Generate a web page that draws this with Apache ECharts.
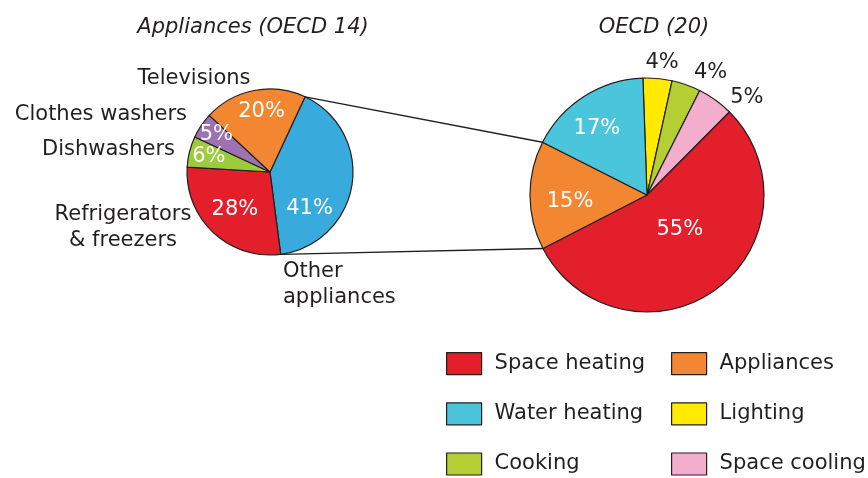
<!DOCTYPE html>
<html>
<head>
<meta charset="utf-8">
<title>Residential energy use</title>
<script src="https://cdn.jsdelivr.net/npm/echarts@6/dist/echarts.min.js"></script>
<style>
    * { margin: 0; padding: 0; }
    html, body { width: 868px; height: 478px; background: #fff; }
    #main { width: 868px; height: 478px; }
</style>
</head>
<body>
<div id="main"></div>
<script>
// Appliances (OECD 14), clockwise from the top right
var applNames = ['Other appliances', 'Refrigerators & freezers', 'Dishwashers', 'Clothes washers', 'Televisions'];
var applLabels = ['Other\nappliances', 'Refrigerators\n& freezers', 'Dishwashers', 'Clothes washers', 'Televisions'];
var applValues = [41, 28, 6, 5, 20];

// OECD (20), clockwise from the top
var useNames = ['Lighting', 'Cooking', 'Space cooling', 'Space heating', 'Appliances', 'Water heating'];
var useValues = [4, 4, 5, 55, 15, 17];

var legendLeft = ['Space heating', 'Water heating', 'Cooking'];
var legendRight = ['Appliances', 'Lighting', 'Space cooling'];

var applColors = ['#38aadb', '#e21f2b', '#9ccb3b', '#9d72b3', '#f28631'];
var useColors = ['#ffea00', '#b5ce33', '#f3aecd', '#e21f2b', '#f28631', '#4bc5dc'];

var FONT = '"DejaVu Sans", sans-serif';
var INK = '#231f20';

var leftPie = { cx: 270, cy: 172, r: 83, start: 65 };
var rightPie = { cx: 647, cy: 195, r: 117, start: 92 };

// angle (deg) of the boundary after the first k slices
function edgeAngle(pie, values, k) {
    var total = 0, part = 0;
    for (var i = 0; i < values.length; i++) {
        total += values[i];
        if (i < k) part += values[i];
    }
    return pie.start - part / total * 360;
}
function polar(pie, ang, dist) {
    var a = ang * Math.PI / 180;
    return [pie.cx + dist * Math.cos(a), pie.cy - dist * Math.sin(a)];
}

// label placement: [angle shift from slice middle, distance as share of radius]
var leftPctPos = [[-34, 0.65], [0, 0.62], [0, 0.76], [-1, 0.79], [-3, 0.73]];
var rightPctPos = [[-1.3, 1.136], [-7.8, 1.18], [-10, 1.19], [7, 0.41], [4.3, 0.66], [4.5, 0.71]];
// name labels of the left pie, offsets from its centre
var leftNamePos = [
    { dx: 13, dy: 113, align: 'left' },
    { dx: -147, dy: 56, align: 'center' },
    { dx: -95, dy: -22, align: 'right' },
    { dx: -83, dy: -57, align: 'right' },
    { dx: -76, dy: -93, align: 'center' }
];

function pctLayout(pie, values, table) {
    return function (p) {
        var i = p.dataIndex;
        var mid = (edgeAngle(pie, values, i) + edgeAngle(pie, values, i + 1)) / 2;
        var xy = polar(pie, mid + table[i][0], pie.r * table[i][1]);
        return { x: xy[0], y: xy[1], align: 'center', verticalAlign: 'middle' };
    };
}

var border = { borderColor: INK, borderWidth: 1.2 };

var applData = applNames.map(function (n, i) {
    return { name: n, value: applValues[i], itemStyle: { color: applColors[i] } };
});
var useData = useNames.map(function (n, i) {
    return {
        name: n, value: useValues[i],
        itemStyle: { color: useColors[i] },
        label: { color: rightPctPos[i][1] > 1 ? INK : '#fff' }
    };
});

// connector lines from the left pie to the Appliances slice
var a1 = polar(leftPie, edgeAngle(leftPie, applValues, 0), leftPie.r);
var a2 = polar(leftPie, edgeAngle(leftPie, applValues, 1), leftPie.r);
var iApp = useNames.indexOf('Appliances');
var b1 = polar(rightPie, edgeAngle(rightPie, useValues, iApp + 1), rightPie.r);
var b2 = polar(rightPie, edgeAngle(rightPie, useValues, iApp), rightPie.r);

var chart = echarts.init(document.getElementById('main'));
chart.setOption({
    animation: false,
    textStyle: { fontFamily: FONT },
    title: [{
        text: 'Appliances (OECD 14)', left: 248, top: 12, textAlign: 'center',
        textStyle: { fontFamily: FONT, fontStyle: 'italic', fontWeight: 'normal', fontSize: 21, color: INK }
    }, {
        text: 'OECD (20)', left: 649, top: 12, textAlign: 'center',
        textStyle: { fontFamily: FONT, fontStyle: 'italic', fontWeight: 'normal', fontSize: 21, color: INK }
    }],
    legend: [legendLeft, legendRight].map(function (names, k) {
        return {
            data: names, orient: 'vertical', left: k ? 671 : 446, top: 352, padding: 0,
            itemWidth: 35, itemHeight: 22, itemGap: 27, icon: 'rect', selectedMode: false,
            itemStyle: { borderColor: INK, borderWidth: 1.2 },
            textStyle: { fontFamily: FONT, fontSize: 21, color: INK, padding: [0, 0, 0, 8] }
        };
    }),
    graphic: [
        { type: 'line', z: 0, shape: { x1: a1[0], y1: a1[1], x2: b1[0], y2: b1[1] }, style: { stroke: INK, lineWidth: 1.3 } },
        { type: 'line', z: 0, shape: { x1: a2[0], y1: a2[1], x2: b2[0], y2: b2[1] }, style: { stroke: INK, lineWidth: 1.3 } }
    ],
    series: [{
        type: 'pie', silent: true, avoidLabelOverlap: false,
        center: [leftPie.cx, leftPie.cy], radius: leftPie.r, startAngle: leftPie.start,
        itemStyle: border,
        label: { position: 'inside', formatter: '{c}%', color: '#fff', fontSize: 21, fontFamily: FONT },
        labelLine: { show: false },
        labelLayout: pctLayout(leftPie, applValues, leftPctPos),
        data: applData
    }, {
        // transparent copy of the left pie that only carries the names
        type: 'pie', silent: true, avoidLabelOverlap: false, z: 1,
        center: [leftPie.cx, leftPie.cy], radius: leftPie.r, startAngle: leftPie.start,
        itemStyle: { color: 'rgba(0,0,0,0)', borderWidth: 0 },
        label: {
            position: 'inside', color: INK, fontSize: 21, lineHeight: 26, fontFamily: FONT,
            formatter: function (p) { return applLabels[p.dataIndex]; }
        },
        labelLine: { show: false },
        labelLayout: function (p) {
            var o = leftNamePos[p.dataIndex];
            return { x: leftPie.cx + o.dx, y: leftPie.cy + o.dy, align: o.align, verticalAlign: 'middle' };
        },
        data: applValues.map(function (v, i) { return { name: applNames[i] + ' ', value: v }; })
    }, {
        type: 'pie', silent: true, avoidLabelOverlap: false,
        center: [rightPie.cx, rightPie.cy], radius: rightPie.r, startAngle: rightPie.start,
        itemStyle: border,
        label: { position: 'inside', formatter: '{c}%', fontSize: 21, fontFamily: FONT },
        labelLine: { show: false },
        labelLayout: pctLayout(rightPie, useValues, rightPctPos),
        data: useData
    }]
});
</script>
</body>
</html>
